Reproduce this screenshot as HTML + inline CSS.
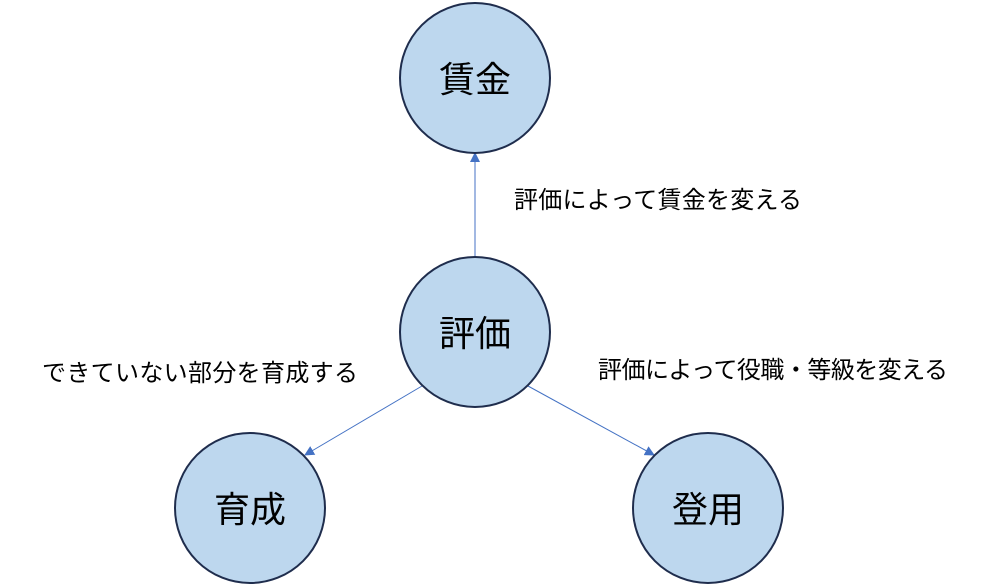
<!DOCTYPE html>
<html><head><meta charset="utf-8"><style>
body{margin:0;background:#fff;}
svg{display:block;}
text{font-family:"Liberation Sans","Noto Sans CJK JP",sans-serif;fill:#000;}
</style></head><body>
<svg width="984" height="584" viewBox="0 0 984 584" xmlns="http://www.w3.org/2000/svg">
<defs><marker id="a" markerWidth="10" markerHeight="10" refX="9" refY="5" orient="auto" markerUnits="userSpaceOnUse"><path d="M0,0 L10,5 L0,10 z" fill="#4472c4"/></marker></defs>
<g stroke="#4472c4" stroke-width="1">
<line x1="475" y1="257" x2="475" y2="153" marker-end="url(#a)"/>
<line x1="422" y1="386" x2="305" y2="455" marker-end="url(#a)"/>
<line x1="528" y1="386" x2="654" y2="455" marker-end="url(#a)"/>
</g>
<g fill="#bdd7ee" stroke="#1f2d4d" stroke-width="2">
<circle cx="475" cy="78" r="75"/>
<circle cx="475" cy="332" r="75"/>
<circle cx="250" cy="508" r="75"/>
<circle cx="708" cy="508" r="75"/>
</g>
<g font-size="36" text-anchor="middle">
<text x="475" y="92">賃金</text>
<text x="475" y="346">評価</text>
<text x="250" y="522">育成</text>
<text x="708" y="522">登用</text>
</g>
<g font-size="24">
<text x="514" y="208" textLength="288" lengthAdjust="spacing">評価によって賃金を変える</text>
<text x="42" y="381" textLength="316" lengthAdjust="spacing">できていない部分を育成する</text>
<text x="598" y="378" textLength="350" lengthAdjust="spacing">評価によって役職・等級を変える</text>
</g>
</svg>
</body></html>
